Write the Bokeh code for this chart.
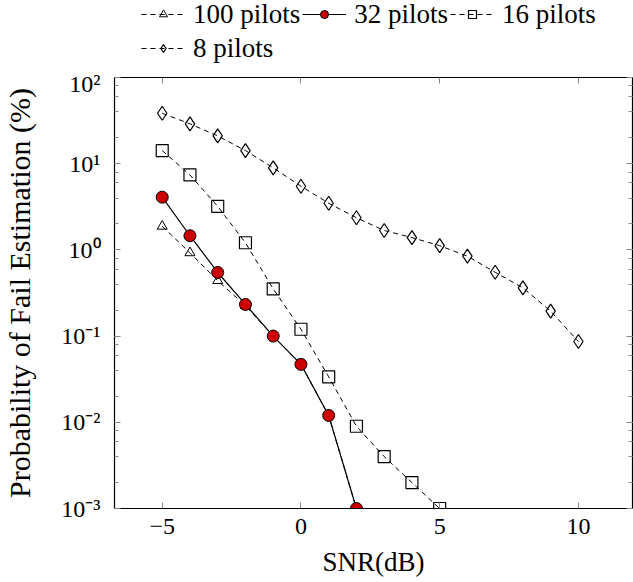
from bokeh.plotting import figure
from bokeh.layouts import column
from bokeh.models import (LinearAxis, LogAxis, Legend, LegendItem, Range1d, FixedTicker,
                          LogTicker, CustomJSTickFormatter)
from bokeh.embed import file_html
from bokeh.resources import INLINE

snr_100 = [-5, -4, -3, -2, -1, 0, 1, 2]
p_100 = [1.88, 0.925, 0.44, 0.225, 0.1, 0.047, 0.012, 0.001]

snr_32 = [-5, -4, -3, -2, -1, 0, 1, 2]
p_32 = [4.09, 1.46, 0.547, 0.233, 0.1, 0.047, 0.012, 0.001]

snr_16 = [-5, -4, -3, -2, -1, 0, 1, 2, 3, 4, 5]
p_16 = [14.2, 7.4, 3.2, 1.21, 0.353, 0.12, 0.0337, 0.009, 0.004, 0.002, 0.001]

snr_8 = [-5, -4, -3, -2, -1, 0, 1, 2, 3, 4, 5, 6, 7, 8, 9, 10]
p_8 = [38.5, 29.0, 21.0, 14.2, 8.96, 5.48, 3.48, 2.36, 1.68, 1.39, 1.12, 0.845, 0.55, 0.363, 0.195, 0.0865]

x_ticks = [-5, 0, 5, 10]
labels = ["100 pilots", "32 pilots", "16 pilots", "8 pilots"]

FONT = "Liberation Serif"
DASH = "5 4"
LEG_H = 70

styles = {
    "100": dict(marker="triangle", size=10, fill_color=None, lw=1.0, dash=DASH),
    "32": dict(marker="circle", size=12, fill_color="#cc0000", lw=1.0, dash="solid"),
    "16": dict(marker="square", size=12, fill_color=None, lw=1.2, dash=DASH),
    "8": dict(marker="diamond", size=14, fill_color=None, lw=1.2, dash=DASH),
}

def draw(fig, key, xs, ys):
    s = styles[key]
    ln = fig.line(xs, ys, line_color="black", line_dash=s["dash"],
                  line_width=1.2 if s["dash"] == "solid" else 1)
    mk = fig.scatter(xs, ys, marker=s["marker"], size=s["size"], fill_color=s["fill_color"],
                     line_color="black", line_width=s["lw"])
    return ln, mk

# ---- main plot ----
p = figure(width=633, height=582 - LEG_H, y_axis_type="log", output_backend="svg",
           toolbar_location=None,
           x_range=Range1d(-6.72, 11.95), y_range=Range1d(1e-3, 1e2),
           min_border_left=114, min_border_right=1, min_border_top=7, min_border_bottom=74)
p.grid.visible = False
p.outline_line_color = "black"
p.outline_line_width = 1.2

draw(p, "100", snr_100, p_100)
draw(p, "16", snr_16, p_16)
draw(p, "8", snr_8, p_8)
draw(p, "32", snr_32, p_32)

def style(ax, show_labels=True):
    ax.major_tick_in = 6
    ax.major_tick_out = 0
    ax.minor_tick_in = 4
    ax.minor_tick_out = 0
    ax.axis_line_color = "black"
    ax.major_tick_line_color = "#888888"
    ax.minor_tick_line_color = "#888888"
    ax.major_label_text_font = FONT
    ax.major_label_text_font_size = "24px"
    ax.major_label_text_color = "black"
    ax.axis_label_text_font = FONT
    ax.axis_label_text_font_size = "27px"
    ax.axis_label_text_font_style = "normal"
    ax.axis_label_text_color = "black"
    if not show_labels:
        ax.major_label_text_font_size = "0px"
        ax.major_label_text_color = None
        ax.major_label_standoff = 0

xa = p.xaxis[0]
xa.ticker = FixedTicker(ticks=x_ticks)
style(xa)
xa.minor_tick_line_color = None
xa.axis_label = "SNR(dB)"
xa.major_label_standoff = 10
xa.axis_label_standoff = 10

sup_js = """
const sup = {"0":"\u2070","1":"\u00b9","2":"\u00b2","3":"\u00b3","4":"\u2074","5":"\u2075",
             "6":"\u2076","7":"\u2077","8":"\u2078","9":"\u2079","-":"\u207b"};
const e = Math.round(Math.log10(tick));
return "10" + String(e).split("").map(c => sup[c]).join("");
"""

ya = p.yaxis[0]
ya.ticker = LogTicker()
style(ya)
ya.formatter = CustomJSTickFormatter(code=sup_js)
ya.axis_label = "Probability of Fail Estimation (%)"
ya.axis_label_text_font_size = "30px"
ya.major_label_standoff = 14
ya.axis_label_standoff = 22

top = LinearAxis(ticker=FixedTicker(ticks=x_ticks))
style(top, False)
top.minor_tick_line_color = None
p.add_layout(top, "above")

right = LogAxis(ticker=LogTicker())
style(right, False)
p.add_layout(right, "right")

# ---- legend strip ----
lf = figure(width=633, height=LEG_H, output_backend="svg", toolbar_location=None,
            x_axis_location=None, y_axis_location=None,
            x_range=Range1d(0, 1), y_range=Range1d(0, 1),
            min_border_left=114, min_border_right=1, min_border_top=0, min_border_bottom=0)
lf.grid.visible = False
lf.outline_line_color = None
items = []
for key, lab in zip(["100", "32", "16", "8"], labels):
    ln, mk = draw(lf, key, [-100, -99], [-100, -99])
    items.append(LegendItem(label=lab, renderers=[ln, mk]))

legend = Legend(items=items, orientation="horizontal", ncols=3, location=(27, 6))
legend.border_line_color = None
legend.background_fill_alpha = 0
legend.label_text_font = FONT
legend.label_text_font_size = "27px"
legend.label_text_color = "black"
legend.glyph_width = 44
legend.glyph_height = 20
legend.label_standoff = 8
legend.spacing = 2
legend.padding = 0
legend.margin = 0
legend.label_height = 32
lf.add_layout(legend)

layout = column(lf, p, spacing=0)
open("out.html", "w").write(file_html(layout, INLINE))
